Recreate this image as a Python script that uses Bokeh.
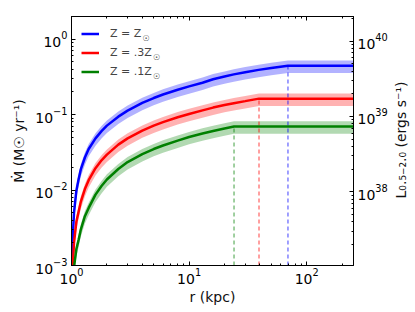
import math
from bokeh.plotting import figure
from bokeh.layouts import row
from bokeh.models import (LogAxis, Range1d, LogScale, Legend, LegendItem, Label,
                          LogTicker, CustomJSTickFormatter, ColumnDataSource)
from bokeh.embed import file_html
from bokeh.resources import INLINE

# ---------------- data ----------------
r_blue = [1.0, 1.01, 1.02, 1.05, 1.1, 1.15, 1.2, 1.3, 1.4, 1.6, 1.8, 2.0, 2.5, 3.0,
          4.0, 5.0, 6.0, 8.0, 10.0, 13.0, 16.0, 20.0, 24.0, 30.0, 39.0, 50.0, 69.3, 250.0]
mdot_blue = [1e-5, 0.00103, 0.00204, 0.0050, 0.0098, 0.0140, 0.0188, 0.027, 0.0350,
             0.0485, 0.0605, 0.0715, 0.094, 0.113, 0.143, 0.166, 0.185, 0.214, 0.237,
             0.265, 0.295, 0.320, 0.342, 0.365, 0.392, 0.415, 0.446, 0.446]

r_red = [1.0, 1.01, 1.02, 1.05, 1.1, 1.15, 1.2, 1.3, 1.4, 1.6, 1.8, 2.0, 2.5, 3.0,
         4.0, 5.0, 6.0, 8.0, 10.0, 13.0, 16.0, 20.0, 24.0, 30.0, 39.3, 250.0]
mdot_red = [1e-5, 0.00040, 0.00080, 0.0020, 0.0038, 0.0052, 0.0070, 0.0103, 0.0135,
            0.0195, 0.0248, 0.0295, 0.0400, 0.0485, 0.0615, 0.0715, 0.0795, 0.0923,
            0.102, 0.114, 0.124, 0.134, 0.142, 0.151, 0.163, 0.163]

r_green = [1.0, 1.02, 1.05, 1.1, 1.15, 1.2, 1.3, 1.4, 1.6, 1.8, 2.0, 2.5, 3.0, 4.0,
           5.0, 6.0, 8.0, 10.0, 13.0, 16.0, 20.0, 24.1, 250.0]
mdot_green = [1e-5, 0.00043, 0.00095, 0.00165, 0.0022, 0.0030, 0.0045, 0.0058, 0.0087,
              0.0113, 0.0138, 0.0190, 0.0235, 0.0300, 0.0350, 0.0390, 0.0453, 0.0505,
              0.0562, 0.0607, 0.0656, 0.0697, 0.0697]

# relative uncertainty band
band_lo = 0.80
band_hi = 1.17

# radius where each curve flattens, and the flat value
r_break = [69.3, 39.3, 24.1]
mdot_flat = [0.446, 0.163, 0.0697]

labels = ["Z = Z", "Z = .3Z", "Z = .1Z"]
colors = ["#0000ff", "#ff0000", "#008000"]

x_min, x_max = 1.0, 250.0
y_min, y_max = 1e-3, 2.0
lum_min, lum_max = 1.057e37, 2.114e40

FONT = "DejaVu Sans"
FRAME_W, FRAME_H = 282, 249
TOTAL_H = 312
RIGHT_STRIP_W = 25

# ---------------- main figure ----------------
p = figure(frame_width=FRAME_W, frame_height=FRAME_H,
           x_axis_type="log", y_axis_type="log",
           x_range=Range1d(x_min, x_max), y_range=Range1d(y_min, y_max),
           output_backend="svg", toolbar_location=None,
           min_border_left=71, min_border_right=37, min_border_top=16, min_border_bottom=47)
p.extra_y_ranges = {"lum": Range1d(lum_min, lum_max)}
p.extra_y_scales = {"lum": LogScale()}
p.grid.visible = False
p.outline_line_color = "black"
p.outline_line_width = 1
p.background_fill_color = "white"
p.border_fill_color = "white"


def style(ax, label_size="14px"):
    ax.major_tick_in = 4
    ax.major_tick_out = 0
    ax.minor_tick_in = 2
    ax.minor_tick_out = 0
    ax.axis_line_color = "black"
    ax.major_tick_line_color = "black"
    ax.minor_tick_line_color = "black"
    ax.major_label_text_font = FONT
    ax.major_label_text_font_size = label_size
    ax.major_label_text_color = "black"
    ax.axis_label_text_font = FONT
    ax.axis_label_text_font_size = "14px"
    ax.axis_label_text_font_style = "normal"
    ax.axis_label_text_color = "#111111"


xa = p.xaxis[0]
style(xa)
xa.ticker = LogTicker(num_minor_ticks=10)
xa.axis_label = "r (kpc)"
xa.major_label_standoff = 2
xa.axis_label_standoff = 2

ya = p.yaxis[0]
style(ya)
ya.ticker = LogTicker(num_minor_ticks=10)
ya.axis_label = "Ṁ (M☉ yr⁻¹)"
ya.major_label_standoff = 4
ya.axis_label_standoff = 5

# right (luminosity) axis
ra = LogAxis(y_range_name="lum", ticker=LogTicker(num_minor_ticks=10))
style(ra)
ra.major_label_standoff = 4
p.add_layout(ra, "right")

# top axis: ticks only
ta = LogAxis(ticker=LogTicker(num_minor_ticks=10),
             formatter=CustomJSTickFormatter(code="return ''"))
style(ta, label_size="1px")
ta.major_label_standoff = 0
p.add_layout(ta, "above")

# ---------------- glyphs ----------------
series = [(r_blue, mdot_blue), (r_red, mdot_red), (r_green, mdot_green)]
line_renderers = []
for (r, m), c in zip(series, colors):
    lo = [v * band_lo for v in m]
    hi = [v * band_hi for v in m]
    p.varea(x=r, y1=lo, y2=hi, fill_color=c, fill_alpha=0.3)

seg_src = ColumnDataSource(dict(x=r_break, y0=[y_min] * len(r_break), y1=mdot_flat, c=colors))
p.segment(x0="x", y0="y0", x1="x", y1="y1", source=seg_src, line_color="c",
          line_width=1, line_dash="4 3", line_alpha=0.75)

for (r, m), c in zip(series, colors):
    line_renderers.append(p.line(r, m, line_color=c, line_width=2.5))

legend = Legend(items=[LegendItem(label=l, renderers=[rr]) for l, rr in zip(labels, line_renderers)],
                location="top_left", margin=0, padding=10, spacing=4,
                glyph_width=18, glyph_height=15, label_height=15, label_standoff=11,
                label_text_font=FONT, label_text_font_size="11px",
                border_line_alpha=0, background_fill_alpha=0)
p.add_layout(legend)

# subscript sun symbols after the legend labels
sun_x = [71, 81.5, 81.5]
sun_y = [227.5, 208.5, 189.5]
for sx, sy in zip(sun_x, sun_y):
    p.add_layout(Label(x=sx, y=sy, x_units="screen", y_units="screen", text="☉",
                       text_font=FONT, text_font_size="8px", text_baseline="middle",
                       text_align="left", text_color="#333333"))

# ---------------- narrow strip holding the right-hand axis title ----------------
# (its frame is aligned with the main frame by the row layout)
p2 = figure(width=RIGHT_STRIP_W, height=TOTAL_H, output_backend="svg", toolbar_location=None,
            x_range=Range1d(0, 1), y_range=Range1d(0, 1),
            x_axis_location=None, y_axis_location=None,
            min_border_left=0, min_border_right=0, min_border_top=0, min_border_bottom=0)
p2.grid.visible = False
p2.outline_line_color = None
p2.background_fill_color = "white"
p2.border_fill_color = "white"
p2.add_layout(Label(x=10, y=FRAME_H / 2 + 1, x_units="screen", y_units="screen",
                    text="L₀.₅₋₂.₀ (ergs s⁻¹)", angle=math.pi / 2,
                    text_align="center", text_baseline="middle",
                    text_font=FONT, text_font_size="14px", text_color="#111111"))

layout = row(p, p2, spacing=0)
open("out.html", "w").write(file_html(layout, INLINE))
